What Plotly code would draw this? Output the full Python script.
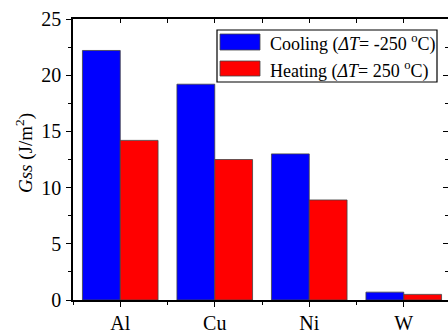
import plotly.graph_objects as go

categories = ["Al", "Cu", "Ni", "W"]
cooling = [22.2, 19.2, 13.0, 0.7]
heating = [14.2, 12.5, 8.9, 0.5]
legend_labels = ["Cooling (<i>ΔT</i>= -250 <sup>o</sup>C)", "Heating (<i>ΔT</i>= 250 <sup>o</sup>C)"]
y_title = "<i>Gss</i> (J/m<sup>2</sup>)"

W, H = 448, 335
L, T, B, R = 73, 19, 35, 0
PW, PH = W - L - R, H - T - B

def px(x):
    return (x - L) / PW

def py(y):
    return (H - B - y) / PH

xs = list(range(len(categories)))
FONT = "Liberation Serif"

fig = go.Figure()
fig.add_trace(go.Bar(x=xs, y=cooling, name="Cooling", marker=dict(color="#0000FF", line=dict(color="#444", width=0.8)), showlegend=False))
fig.add_trace(go.Bar(x=xs, y=heating, name="Heating", marker=dict(color="#FF0000", line=dict(color="#444", width=0.8)), showlegend=False))
fig.add_trace(go.Scatter(x=[xs[0]], y=[0], xaxis="x2", yaxis="y2", mode="markers", marker=dict(opacity=0), showlegend=False, hoverinfo="skip"))

xr = [-0.5, -0.5 + PW / 94.5]
fig.update_layout(
    width=W, height=H, margin=dict(l=L, r=R, t=T, b=B, autoexpand=False),
    plot_bgcolor="white", paper_bgcolor="white",
    barmode="group", bargap=0.2, bargroupgap=0,
    font=dict(family=FONT, size=20, color="black"),
    xaxis=dict(range=xr, tickvals=xs, ticktext=categories, showline=True, linecolor="black", linewidth=1.5,
               ticks="outside", ticklen=5, tickwidth=1, tickcolor="black", showgrid=False, zeroline=False,
               ticklabelstandoff=-1,
               minor=dict(tick0=0.5, dtick=1, ticks="outside", ticklen=3, tickcolor="black", showgrid=False)),
    yaxis=dict(range=[0, 25], dtick=5, showline=True, linecolor="black", linewidth=1.5,
               ticks="outside", ticklen=5, tickwidth=1, tickcolor="black", showgrid=False, zeroline=False,
               ticklabelstandoff=1,
               minor=dict(dtick=2.5, ticks="outside", ticklen=3, tickcolor="black", showgrid=False)),
    xaxis2=dict(overlaying="x", side="top", range=xr, tickvals=xs, showticklabels=False, showline=True,
                linecolor="black", linewidth=1.5, ticks="inside", ticklen=4, tickcolor="black", showgrid=False,
                zeroline=False,
                minor=dict(tick0=0.5, dtick=1, ticks="inside", ticklen=4, tickcolor="black", showgrid=False)),
    yaxis2=dict(overlaying="y", side="right", range=[0, 25], dtick=5, showticklabels=False, showline=False,
                ticks="inside", ticklen=5, tickcolor="black", showgrid=False, zeroline=False,
                minor=dict(dtick=2.5, ticks="inside", ticklen=3, tickcolor="black", showgrid=False)),
)

fig.add_annotation(text=y_title, textangle=-90, xref="paper", yref="paper", x=px(24), y=py(153),
                   showarrow=False, font=dict(family=FONT, size=19), xanchor="center", yanchor="middle")

# legend box
shapes = [dict(type="rect", xref="paper", yref="paper", x0=px(217), x1=px(437), y0=py(82), y1=py(30),
               line=dict(color="black", width=1.2), fillcolor="white", layer="above")]
colors = ["#0000FF", "#FF0000"]
rows = [(34, 50, 43), (61, 76, 70)]
for (y0, y1, yc), c, lab in zip(rows, colors, legend_labels):
    shapes.append(dict(type="rect", xref="paper", yref="paper", x0=px(220), x1=px(260), y0=py(y1), y1=py(y0),
                       line=dict(color="#444", width=0.8), fillcolor=c, layer="above"))
    fig.add_annotation(text=lab, xref="paper", yref="paper", x=px(268), y=py(yc), showarrow=False,
                       xanchor="left", yanchor="middle", font=dict(family=FONT, size=18))
fig.update_layout(shapes=shapes)

fig.write_html("out.html")
